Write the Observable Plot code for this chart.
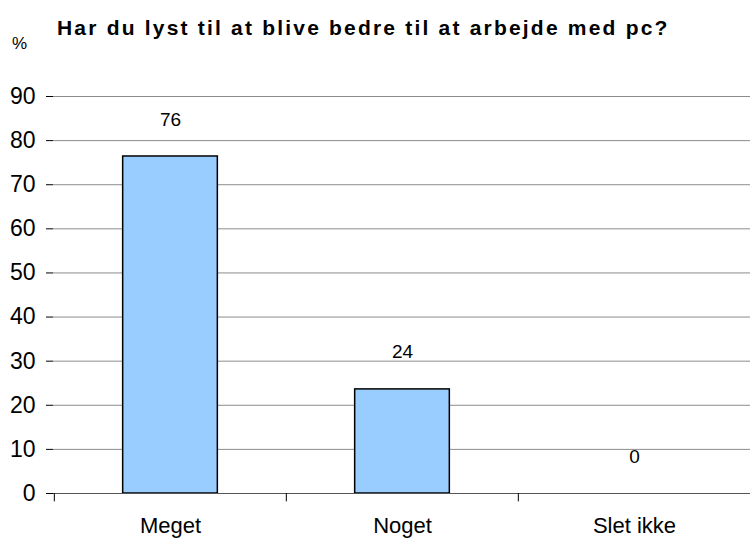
<!DOCTYPE html>
<html><head><meta charset="utf-8">
<script src="https://cdn.jsdelivr.net/npm/d3@7"></script>
<script src="https://cdn.jsdelivr.net/npm/@observablehq/plot@0.6"></script>
<style>
body{margin:0;background:#fff;font-family:"Liberation Sans",Arial,sans-serif;}
#wrap{position:relative;width:750px;height:541px;}
#title{position:absolute;left:57px;top:16px;font-size:21px;line-height:24px;letter-spacing:2.2px;font-weight:bold;white-space:nowrap;color:#000;}
#unit{position:absolute;left:12px;top:34px;font-size:17px;line-height:20px;color:#000;}
#chart{position:absolute;left:0;top:0;}
</style></head><body>
<div id="wrap"><div id="chart"></div><div id="title"></div><div id="unit"></div></div>
<script>
const title = "Har du lyst til at blive bedre til at arbejde med pc?";
const unitLabel = "%";
const categories = ["Meget", "Noget", "Slet ikke"];
const values = [76.4, 23.6, 0];
const valueLabels = ["76", "24", "0"];
const yTicks = [0, 10, 20, 30, 40, 50, 60, 70, 80, 90];

document.getElementById("title").textContent = title;
document.getElementById("unit").textContent = unitLabel;

const data = categories.map((c, i) => ({cat: c, v: values[i], lab: valueLabels[i]}));
const W = 750, H = 541, mL = 53, mR = 0, mT = 96, mB = 48;
const step = (W - mL - mR) / categories.length;
const barW = 95;
const inset = (step - barW) / 2;

const chart = Plot.plot({
  width: W, height: H,
  marginLeft: mL, marginRight: mR, marginTop: mT, marginBottom: mB,
  style: {fontFamily: "Liberation Sans, Arial, sans-serif", background: "#fff", color: "#000", overflow: "visible"},
  x: {type: "band", domain: categories, padding: 0, label: null},
  y: {domain: [0, 90], label: null},
  marks: [
    Plot.ruleY(yTicks, {stroke: "#8c8c8c", strokeWidth: 1}),
    Plot.barY(data, {x: "cat", y: "v", fill: "#99ccff", stroke: "#000", strokeWidth: 1.5, insetLeft: inset, insetRight: inset}),
    Plot.ruleY([0], {stroke: "#555", strokeWidth: 1.2}),
    Plot.ruleX([0], {stroke: "#000", strokeWidth: 1, y1: 0, y2: 90}),
    Plot.ruleX(categories, {x: d => d, dx: -step / 2, y1: 0, y2: -1.9, stroke: "#000"}),
    Plot.text(data, {x: "cat", y: "v", text: "lab", dy: -37, fontSize: 19, fill: "#000"}),
    Plot.axisY({ticks: yTicks, tickSize: 7, tickPadding: 11, fontSize: 23, tickFormat: d => d, stroke: "#000"}),
    Plot.axisX({tickSize: 0, tickPadding: 24, fontSize: 22})
  ]
});
document.getElementById("chart").appendChild(chart);
</script>
</body></html>
